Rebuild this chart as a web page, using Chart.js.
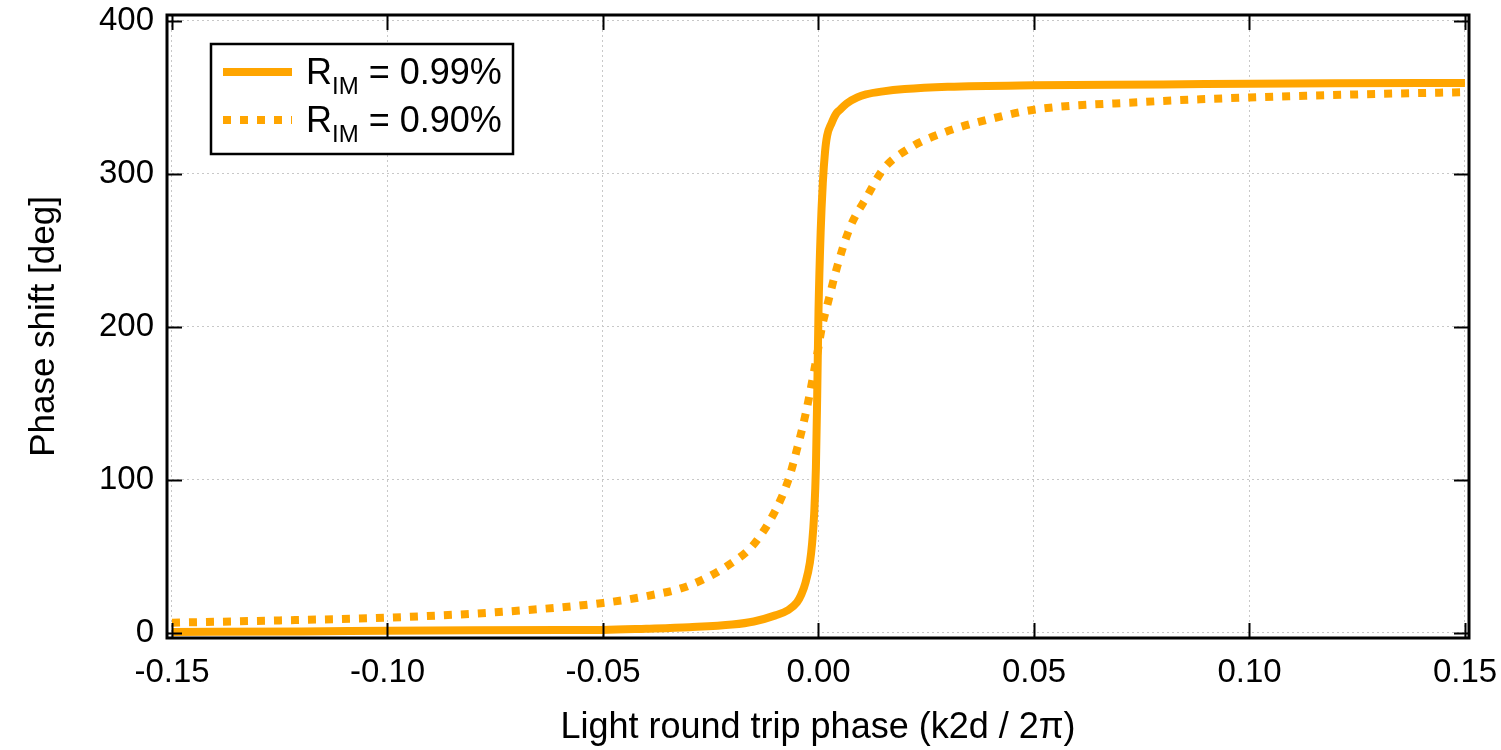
<!DOCTYPE html>
<html>
<head>
<meta charset="UTF-8">
<title>Phase shift</title>
<script src="https://cdn.jsdelivr.net/npm/chart.js"></script>
<style>
  html, body { margin: 0; padding: 0; background: #fff; }
  #wrap { width: 1501px; height: 750px; position: relative; }
</style>
</head>
<body>
<div id="wrap"><canvas id="myChart"></canvas></div>
<script>
// R_IM = 0.99% (solid)
const xSolid = [-0.15, -0.12, -0.10, -0.08, -0.06, -0.05, -0.04, -0.03, -0.02, -0.015, -0.01, -0.007, -0.005, -0.004, -0.003, -0.002, -0.0015, -0.001, -0.0006, -0.0003, 0, 0.0005, 0.001, 0.0015, 0.002, 0.003, 0.004, 0.005, 0.0065, 0.009, 0.011, 0.015, 0.02, 0.03, 0.05, 0.08, 0.10, 0.12, 0.15];
const ySolid = [0.7, 1.0, 1.4, 1.7, 1.9, 2.0, 2.8, 3.8, 5.5, 7.5, 11.5, 15, 20, 25, 33, 46, 58, 78, 108, 155, 210, 262, 294, 314, 325, 333, 339, 342, 346, 350, 352, 354, 355.5, 357, 358, 358.5, 359, 359.3, 359.5];
// R_IM = 0.90% (dotted)
const xDotted = [-0.15, -0.125, -0.10, -0.075, -0.05, -0.04, -0.03, -0.02, -0.015, -0.01, -0.007, -0.005, -0.003, -0.0013, 0, 0.0008, 0.0022, 0.0043, 0.0073, 0.0112, 0.015, 0.0212, 0.029, 0.04, 0.05, 0.075, 0.10, 0.125, 0.15];
const yDotted = [6.7, 8.2, 10, 13.5, 19.6, 24, 31, 46, 58, 80, 100, 120, 143, 167, 187, 200, 216, 239, 265, 285, 303, 317, 327, 336, 342, 347, 350, 352, 353.5];

const xTicks = [-0.15, -0.10, -0.05, 0, 0.05, 0.10, 0.15];
const yTicks = [0, 100, 200, 300, 400];

const seriesNames = [' = 0.99%', ' = 0.90%'];

const orange = 'rgb(255,165,0)';
const font = 'Liberation Sans, Arial, sans-serif';

const framePlugin = {
  id: 'frame',
  afterDraw(chart) {
    const {ctx, chartArea: a, scales: {x, y}} = chart;
    ctx.save();
    ctx.strokeStyle = '#000';
    ctx.lineWidth = 2;
    ctx.beginPath();
    xTicks.forEach(v => {
      const px = Math.round(x.getPixelForValue(v)) + 0.5;
      ctx.moveTo(px, a.bottom); ctx.lineTo(px, a.bottom - 15);
      ctx.moveTo(px, a.top); ctx.lineTo(px, a.top + 15);
    });
    yTicks.forEach(v => {
      const py = Math.round(y.getPixelForValue(v)) + 0.5;
      ctx.moveTo(a.left, py); ctx.lineTo(a.left + 15, py);
      ctx.moveTo(a.right, py); ctx.lineTo(a.right - 15, py);
    });
    ctx.stroke();
    ctx.lineWidth = 3;
    ctx.strokeRect(a.left, a.top, a.right - a.left, a.bottom - a.top);

    // legend with subscript
    const bx = 211, by = 44, bw = 302, bh = 110;
    ctx.fillStyle = '#fff';
    ctx.fillRect(bx, by, bw, bh);
    ctx.lineWidth = 2.5;
    ctx.strokeRect(bx, by, bw, bh);
    chart.data.datasets.forEach((ds, i) => {
      const ly = 72 + i * 48;
      ctx.strokeStyle = ds.borderColor;
      ctx.lineWidth = ds.borderWidth;
      ctx.setLineDash(ds.borderDash || []);
      ctx.beginPath();
      ctx.moveTo(223, ly); ctx.lineTo(292, ly);
      ctx.stroke();
      ctx.setLineDash([]);
      ctx.fillStyle = '#000';
      ctx.textBaseline = 'alphabetic';
      ctx.textAlign = 'left';
      ctx.font = '36px ' + font;
      const base = ly + 12;
      ctx.fillText('R', 306, base);
      let tx = 306 + ctx.measureText('R').width;
      ctx.font = '24px ' + font;
      ctx.fillText('IM', tx, base + 10);
      tx += ctx.measureText('IM').width;
      ctx.font = '36px ' + font;
      ctx.fillText(seriesNames[i], tx, base);
    });
    ctx.restore();
  }
};

// keep the plot box where it is in the picture, no extra room for overflowing labels
const noPad = s => { s.paddingLeft = 0; s.paddingRight = 0; s.paddingTop = 0; s.paddingBottom = 0; };

const ctx = document.getElementById('myChart').getContext('2d');
new Chart(ctx, {
  type: 'line',
  data: {
    datasets: [{
      label: 'RIM' + seriesNames[0],
      data: xSolid.map((v, i) => ({x: v, y: ySolid[i]})),
      borderColor: orange,
      borderWidth: 8,
      pointRadius: 0,
      cubicInterpolationMode: 'monotone',
      fill: false
    }, {
      label: 'RIM' + seriesNames[1],
      data: xDotted.map((v, i) => ({x: v, y: yDotted[i]})),
      borderColor: orange,
      borderWidth: 8,
      borderDash: [8, 9],
      borderCapStyle: 'butt',
      pointRadius: 0,
      cubicInterpolationMode: 'monotone',
      fill: false
    }]
  },
  options: {
    responsive: true,
    maintainAspectRatio: false,
    animation: false,
    layout: { padding: { top: 15, right: 32, left: 0, bottom: 0 } },
    plugins: { legend: { display: false }, tooltip: { enabled: false } },
    scales: {
      x: {
        type: 'linear',
        min: -0.15116,
        max: 0.15093,
        afterBuildTicks: s => { s.ticks = xTicks.map(v => ({value: v})); },
        afterFit: s => { s.height = 112; noPad(s); },
        grid: { color: '#c8c8c8', lineWidth: 1, drawTicks: false },
        border: { display: false, dash: [2, 3] },
        ticks: {
          color: '#000',
          padding: 15,
          maxRotation: 0,
          font: { family: font, size: 33 },
          callback: v => v.toFixed(2)
        },
        title: {
          display: true,
          text: 'Light round trip phase (k2d / 2π)',
          color: '#000',
          font: { family: font, size: 36 },
          padding: { top: 0, bottom: 0 }
        }
      },
      y: {
        min: -3.3,
        max: 403.9,
        afterBuildTicks: s => { s.ticks = yTicks.map(v => ({value: v})); },
        afterFit: s => { s.width = 167; noPad(s); },
        grid: { color: '#c8c8c8', lineWidth: 1, drawTicks: false },
        border: { display: false, dash: [2, 3] },
        ticks: {
          color: '#000',
          padding: 13,
          font: { family: font, size: 33 },
          callback: v => String(v)
        },
        title: {
          display: true,
          text: 'Phase shift [deg]',
          color: '#000',
          font: { family: font, size: 35 },
          padding: { top: 23, bottom: 0 }
        }
      }
    }
  },
  plugins: [framePlugin]
});
</script>
</body>
</html>
